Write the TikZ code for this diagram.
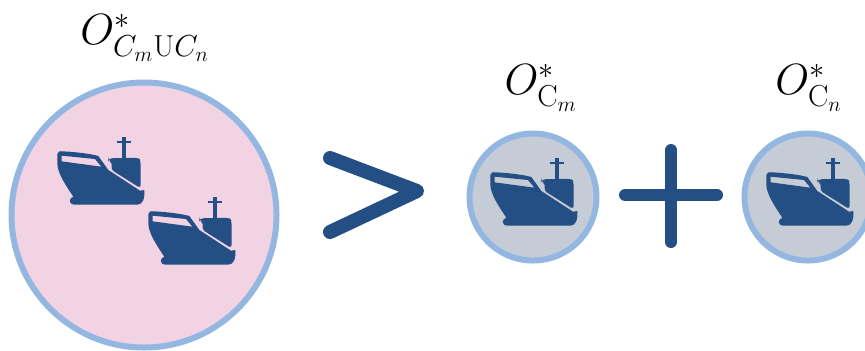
\documentclass[tikz,border=0pt]{standalone}
\usepackage{amsmath}
\usetikzlibrary{positioning,calc}
\definecolor{navyship}{HTML}{244F84}
\definecolor{ringblue}{HTML}{94B7E1}
\definecolor{pinkfill}{HTML}{F1D3E3}
\definecolor{greyfill}{HTML}{C6CCD6}

\tikzset{
    bigcirc/.style={circle, draw=ringblue, line width=1.2mm, fill=pinkfill, minimum size=5.3cm, inner sep=0pt},
    smallcirc/.style={circle, draw=ringblue, line width=1.2mm, fill=greyfill, minimum size=2.54cm, inner sep=0pt},
    lbl/.style={font=\fontsize{24}{29}\selectfont, inner sep=0pt},
    symb/.style={draw=navyship, line width=2.6mm, line cap=round, line join=round},
    ship/.pic={
        \begin{scope}[x=0.00667cm, y=-0.00667cm]
        % hull with window cut out
        \fill[navyship, even odd rule] (-128,-48) .. controls (-128,-56) and (-120,-57) .. (-110,-56) .. controls (-70,-54) and (-25,-48) .. (-5,-42) -- (25,0) -- (120,62) -- (133,60) .. controls (135,85) and (128,104) .. (112,104) -- (-75,104) .. controls (-95,104) and (-95,85) .. (-80,80) .. controls (-100,50) and (-128,10) .. (-128,-20) -- cycle
            (-115,-43) -- (-15,-33) -- (4,-10) -- (-115,-26) -- cycle;
        % bridge
        \fill[navyship, rounded corners=2pt] (25,-35) -- (115,-37) -- (122,-28) -- (122,55) -- (32,-2) -- (38,-22) -- (25,-28) -- cycle;
        % mast
        \fill[navyship] (65,-98) rectangle (78,-36);
        \fill[navyship] (52,-88) rectangle (93,-82);
        \end{scope}
    }
}

\begin{document}
\begin{tikzpicture}
\useasboundingbox (0,0) rectangle (17.3,-7);

\node[bigcirc] (union) at (2.88,-4.3) {};
\node[smallcirc] (cm) at (10.66,-3.94) {};
\node[smallcirc] (cn) at (16.16,-3.94) {};

\pic at (2.0,-3.4) {ship};
\pic at (3.82,-4.6) {ship};
\pic at (10.66,-3.82) {ship};
\pic at (16.18,-3.82) {ship};

\node[lbl] (lunion) at (2.9,-0.76) {$O^{*}_{C_m\mathrm{U}C_n}$};
\node[lbl] (lcm) at (10.82,-1.76) {$O^{*}_{\mathrm{C}_m}$};
\node[lbl] (lcn) at (16.18,-1.76) {$O^{*}_{\mathrm{C}_n}$};

% greater than
\coordinate (gtop) at (6.6,-3.16);
\coordinate (gtip) at (8.34,-3.82);
\coordinate (gbot) at (6.6,-4.64);
\draw[symb, line width=2.8mm] (gtop) -- (gtip) -- (gbot);

% plus
\coordinate (pleft) at (12.5,-3.9);
\coordinate (pright) at (14.34,-3.9);
\coordinate (ptop) at (13.42,-3.0);
\coordinate (pbot) at (13.42,-4.84);
\draw[symb, line width=2.4mm] (pleft) -- (pright);
\draw[symb, line width=2.4mm] (ptop) -- (pbot);
\end{tikzpicture}
\end{document}
